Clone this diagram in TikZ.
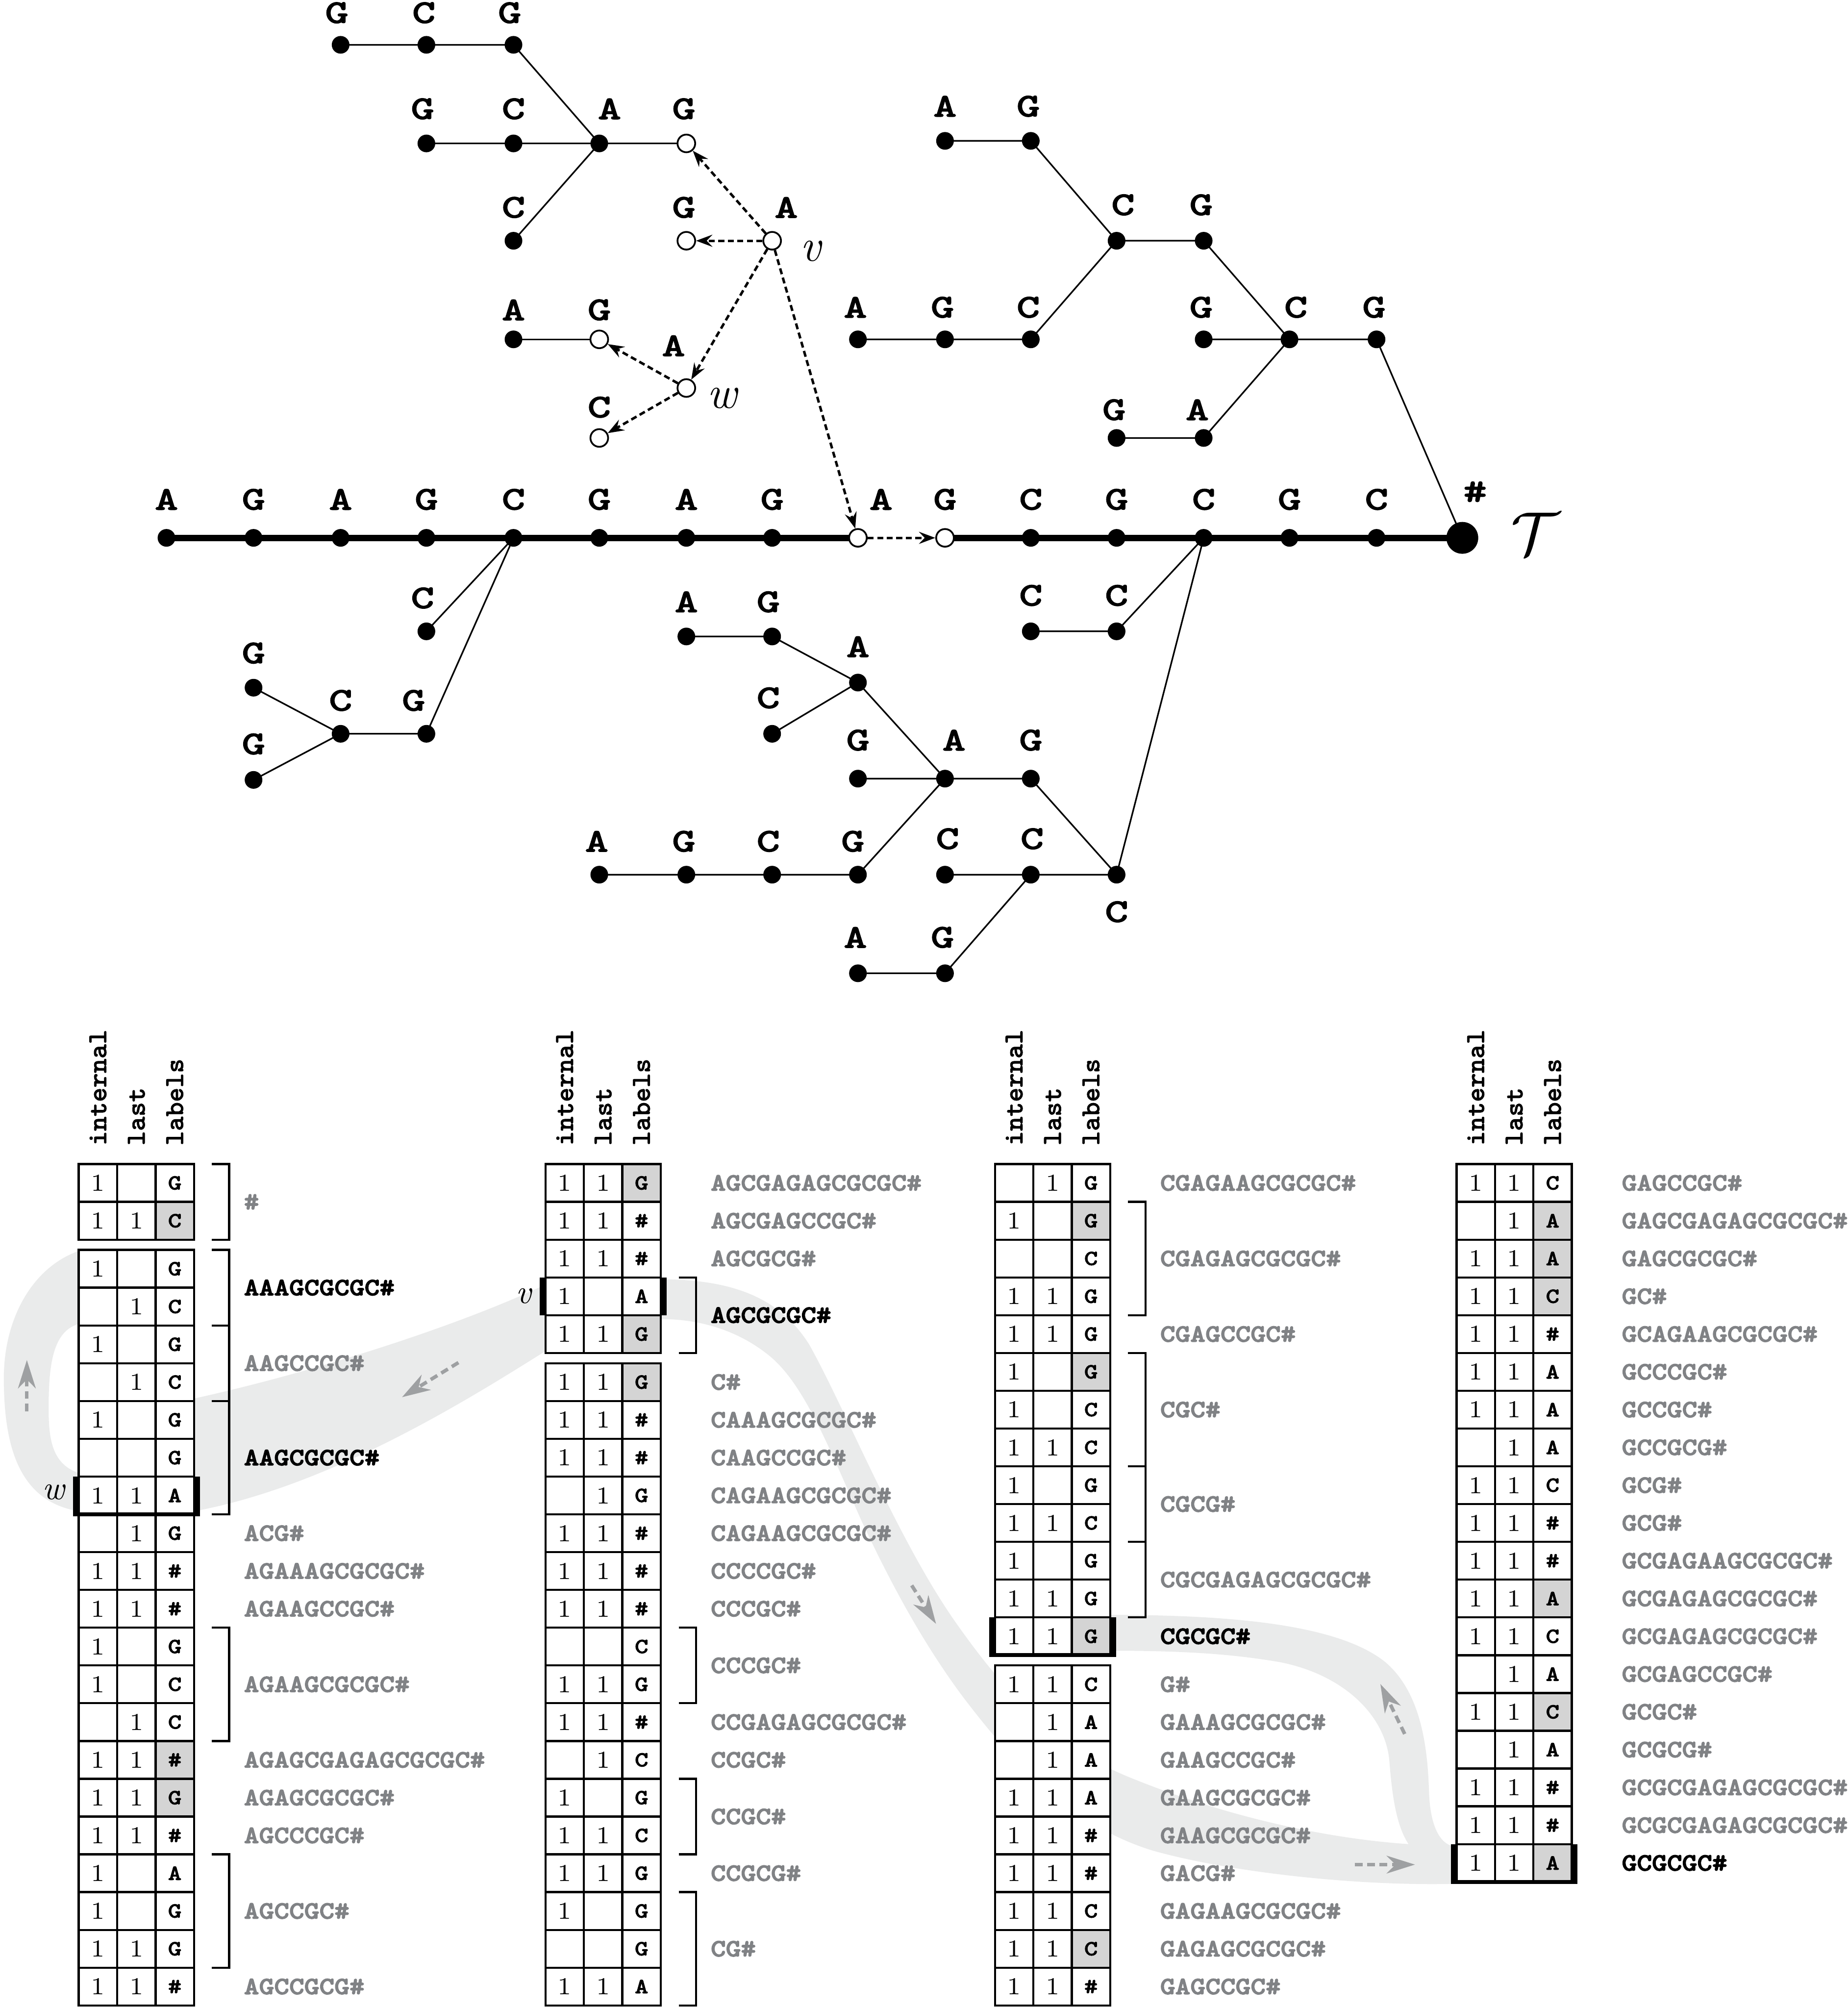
\documentclass[tikz,border=0pt]{standalone}
\usepackage{graphicx}
\usetikzlibrary{arrows.meta}
\pgfdeclarelayer{background}
\pgfsetlayers{background,main}
\definecolor{txtgray}{RGB}{128,130,133}
\definecolor{cellgray}{RGB}{212,212,212}
\definecolor{bandgray}{RGB}{234,235,235}
\definecolor{arrgray}{RGB}{158,160,162}
\font\fTree="[lmmonolt10-bold.otf]:embolden=1.8;extend=1.35" at 9.4pt
\font\fStr="[lmmonolt10-bold.otf]:embolden=3;extend=1.16" at 7pt
\font\fCell="[lmmonolt10-bold.otf]:embolden=2;extend=1.2" at 6.1pt
\font\fHdr="[lmmonolt10-bold.otf]:embolden=1.2" at 7.8pt
\newcommand\tnode[7]{\node[#4] (#1) at (#2,#3) {}; \node[tlab] (#1L) at (#6,#7) {#5};}
\newcommand\drawtab[4]{%
  \foreach \vi/\vl/\vc/\vg [count=\rw] in {#4}{%
    \pgfmathsetmacro\yt{909+(\rw-1)*29.5+8*(\rw>#3)}%
    \pgfmathsetmacro\ym{\yt+14.75}%
    \fill[white] (#2,\yt) rectangle ++(90,29.5);
    \ifnum\vg=1 \fill[cellgray] (#2+60,\yt) rectangle ++(30,29.5);\fi
    \draw[gridl] (#2,\yt) rectangle ++(90,29.5) (#2+30,\yt) -- ++(0,29.5) (#2+60,\yt) -- ++(0,29.5);
    \ifnum\vi=1 \node[digit] (#1i\rw) at (#2+15,\ym) {1};\fi
    \ifnum\vl=1 \node[digit] (#1l\rw) at (#2+45,\ym) {1};\fi
    \node[cellch] (#1c\rw) at (#2+75,\ym) {\vc};
  }%
  \node[hdr] (#1h1) at (#2+15,895) {internal};
  \node[hdr] (#1h2) at (#2+45,895) {last};
  \node[hdr] (#1h3) at (#2+75,895) {labels};
}
\newcommand\drawlabs[4]{%
  \foreach \ra/\rb/\rt/\rk [count=\rw] in {#4}{%
    \pgfmathsetmacro\ya{909+(\ra-1)*29.5+8*(\ra>#3)}%
    \pgfmathsetmacro\yb{909+\rb*29.5+8*(\rb>#3)}%
    \pgfmathsetmacro\ym{(\ya+\yb)/2}%
    \ifnum\ra<\rb \draw[brk] (#2+104,\ya) -| (#2+117.5,\yb) -- (#2+104,\yb);\fi
    \node[str,text=\rk] (#1s\rw) at (#2+128.5,\ym) {\rt};
  }}
\begin{document}
\begin{tikzpicture}[x=0.3623pt,y=-0.3623pt,
 dotn/.style={circle,fill=black,inner sep=0pt,minimum size=5pt},
 openn/.style={circle,draw=black,line width=0.5pt,fill=white,inner sep=0pt,minimum size=5pt},
 rootn/.style={circle,fill=black,inner sep=0pt,minimum size=9pt},
 tlab/.style={inner sep=0pt,font=\fTree},
 tedge/.style={line width=0.45pt},
 pedge/.style={line width=1.8pt},
 darr/.style={line width=0.7pt,dash pattern=on 1.7pt off 1pt,-{Stealth[length=4.6pt,width=3.4pt,inset=1.6pt]}},
 gridl/.style={line width=0.6pt},
 brk/.style={line width=0.6pt},
 digit/.style={inner sep=0pt,font=\fontsize{6.9}{7}\selectfont},
 cellch/.style={inner sep=0pt,font=\fCell},
 hdr/.style={rotate=90,anchor=west,inner sep=0pt,font=\fHdr},
 str/.style={anchor=west,inner sep=0pt,font=\fStr},
 ital/.style={inner sep=0pt,font=\itshape\fontsize{13}{13}\selectfont},
 itals/.style={inner sep=0pt,font=\itshape\fontsize{9.5}{10}\selectfont},
 band/.style={fill=bandgray},
 barr/.style={draw=arrgray,line width=1pt,dash pattern=on 2.2pt off 1.3pt,-{Stealth[length=8pt,width=5pt,inset=2.5pt]}},
]
\useasboundingbox (0,0) rectangle (1443,1568);

% ---------- tree nodes ----------
\tnode{m1}{130}{420}{dotn}{A}{130}{390}
\tnode{m2}{198}{420}{dotn}{G}{198}{390}
\tnode{m3}{266}{420}{dotn}{A}{266}{390}
\tnode{m4}{333}{420}{dotn}{G}{333}{390}
\tnode{m5}{401}{420}{dotn}{C}{401}{390}
\tnode{m6}{468}{420}{dotn}{G}{468}{390}
\tnode{m7}{536}{420}{dotn}{A}{536}{390}
\tnode{m8}{603}{420}{dotn}{G}{603}{390}
\tnode{m9}{670}{420}{openn}{A}{688}{390}
\tnode{m10}{738}{420}{openn}{G}{738}{390}
\tnode{m11}{805}{420}{dotn}{C}{805}{390}
\tnode{m12}{872}{420}{dotn}{G}{872}{390}
\tnode{m13}{940}{420}{dotn}{C}{940}{390}
\tnode{m14}{1007}{420}{dotn}{G}{1007}{390}
\tnode{m15}{1075}{420}{dotn}{C}{1075}{390}
\node[rootn] (root) at (1142,420) {};
\node[tlab] (rootL) at (1152,384) {\#};
\node[inner sep=0pt] (Tcal) at (1199,417) {\fontsize{19}{19}\selectfont$\mathcal{T}$};

\tnode{a1}{333}{493}{dotn}{C}{330}{467}
\tnode{a2}{333}{573}{dotn}{G}{323}{547}
\tnode{a3}{266}{573}{dotn}{C}{266}{547}
\tnode{a4}{198}{537}{dotn}{G}{198}{510}
\tnode{a5}{198}{609}{dotn}{G}{198}{581}

\tnode{b1}{872}{493}{dotn}{C}{872}{465}
\tnode{b2}{805}{493}{dotn}{C}{805}{465}
\tnode{b3}{872}{683}{dotn}{C}{872}{712}
\tnode{b4}{805}{608}{dotn}{G}{805}{578}
\tnode{b5}{738}{608}{dotn}{A}{745}{578}
\tnode{b6}{670}{608}{dotn}{G}{670}{578}
\tnode{b7}{670}{533}{dotn}{A}{670}{505}
\tnode{b8}{603}{497}{dotn}{G}{600}{470}
\tnode{b9}{536}{497}{dotn}{A}{536}{470}
\tnode{b10}{603}{573}{dotn}{C}{600}{545}
\tnode{b11}{670}{683}{dotn}{G}{666}{657}
\tnode{b12}{603}{683}{dotn}{C}{600}{657}
\tnode{b13}{536}{683}{dotn}{G}{534}{657}
\tnode{b14}{468}{683}{dotn}{A}{466}{657}
\tnode{b15}{805}{683}{dotn}{C}{806}{655}
\tnode{b16}{738}{683}{dotn}{C}{740}{655}
\tnode{b17}{738}{760}{dotn}{G}{736}{732}
\tnode{b18}{670}{760}{dotn}{A}{668}{732}

\tnode{c1}{1075}{265}{dotn}{G}{1073}{240}
\tnode{c2}{1007}{265}{dotn}{C}{1012}{240}
\tnode{c3}{940}{265}{dotn}{G}{938}{240}
\tnode{c4}{940}{188}{dotn}{G}{938}{160}
\tnode{c5}{940}{342}{dotn}{A}{935}{320}
\tnode{c6}{872}{342}{dotn}{G}{870}{320}
\tnode{c7}{872}{188}{dotn}{C}{877}{160}
\tnode{c8}{805}{110}{dotn}{G}{803}{83}
\tnode{c9}{738}{110}{dotn}{A}{738}{83}
\tnode{c10}{805}{265}{dotn}{C}{803}{240}
\tnode{c11}{738}{265}{dotn}{G}{736}{240}
\tnode{c12}{670}{265}{dotn}{A}{668}{240}

\tnode{d1}{266}{35}{dotn}{G}{263}{10}
\tnode{d2}{333}{35}{dotn}{C}{331}{10}
\tnode{d3}{401}{35}{dotn}{G}{398}{10}
\tnode{d4}{333}{112}{dotn}{G}{330}{85}
\tnode{d5}{401}{112}{dotn}{C}{401}{85}
\tnode{d6}{468}{112}{dotn}{A}{476}{85}
\tnode{d7}{536}{112}{openn}{G}{534}{85}
\tnode{d8}{401}{188}{dotn}{C}{401}{162}

\tnode{v}{603}{188}{openn}{A}{614}{162}
\tnode{e1}{536}{188}{openn}{G}{534}{162}
\tnode{w}{536}{303}{openn}{A}{526}{270}
\tnode{e2}{468}{265}{openn}{G}{468}{242}
\tnode{e3}{401}{265}{dotn}{A}{401}{242}
\tnode{e4}{468}{342}{openn}{C}{468}{318}
\node[ital] (vname) at (633,196) {v};
\node[ital] (wname) at (564,311) {w};

% dotted arrows
\draw[darr] (v) -- (d7);
\draw[darr] (v) -- (e1);
\draw[darr] (v) -- (w);
\draw[darr] (v) -- (m9);
\draw[darr] (w) -- (e2);
\draw[darr] (w) -- (e4);
\draw[darr] (m9) -- (m10);

\begin{pgfonlayer}{background}
\draw[pedge] (m1.center) -- (m2.center) -- (m3.center) -- (m4.center) -- (m5.center) -- (m6.center) -- (m7.center) -- (m8.center) -- (m9.center);
\draw[pedge] (m10.center) -- (m11.center) -- (m12.center) -- (m13.center) -- (m14.center) -- (m15.center) -- (root.center);
\draw[tedge] (m5.center) -- (a1.center) (m5.center) -- (a2.center) -- (a3.center) -- (a4.center) (a3.center) -- (a5.center);
\draw[tedge] (m13.center) -- (b1.center) -- (b2.center) (m13.center) -- (b3.center) -- (b4.center) -- (b5.center) -- (b6.center)
  (b5.center) -- (b7.center) -- (b8.center) -- (b9.center) (b7.center) -- (b10.center)
  (b5.center) -- (b11.center) -- (b12.center) -- (b13.center) -- (b14.center)
  (b3.center) -- (b15.center) -- (b16.center) (b15.center) -- (b17.center) -- (b18.center);
\draw[tedge] (root.center) -- (c1.center) -- (c2.center) -- (c3.center) (c2.center) -- (c4.center) -- (c7.center) -- (c8.center) -- (c9.center)
  (c7.center) -- (c10.center) -- (c11.center) -- (c12.center) (c2.center) -- (c5.center) -- (c6.center);
\draw[tedge] (d1.center) -- (d2.center) -- (d3.center) -- (d6.center) (d4.center) -- (d5.center) -- (d6.center) -- (d7.center) (d6.center) -- (d8.center);
\draw[tedge] (e3.center) -- (e2.center);

% ---------- grey bands ----------
\fill[band] (426,1003) .. controls (370,1030) and (260,1068) .. (152,1092) -- (61,1150)
  .. controls (40,1143) and (38,1122) .. (38,1100) .. controls (38,1070) and (40,1040) .. (61,1034)
  -- (61,977) .. controls (25,990) and (3,1030) .. (3,1076) .. controls (3,1130) and (15,1172) .. (61,1180)
  -- (152,1180) .. controls (260,1160) and (370,1090) .. (426,1055) -- cycle;
\fill[band] (516,999) .. controls (575,999) and (610,1015) .. (632,1050)
  .. controls (660,1100) and (700,1200) .. (745,1265)
  .. controls (780,1315) and (820,1362) .. (880,1387)
  .. controls (960,1420) and (1040,1436) .. (1100,1440)
  .. controls (1090,1425) and (1087,1400) .. (1085,1375)
  .. controls (1082,1340) and (1050,1308) .. (1000,1298)
  .. controls (960,1291) and (920,1289) .. (866,1289) -- (866,1261)
  .. controls (960,1261) and (1045,1268) .. (1082,1298)
  .. controls (1110,1322) and (1115,1365) .. (1116,1400)
  .. controls (1117,1425) and (1124,1441) .. (1137,1442) -- (1137,1471)
  .. controls (1060,1473) and (960,1462) .. (900,1445)
  .. controls (835,1425) and (790,1375) .. (752,1325)
  .. controls (720,1282) and (695,1235) .. (673,1188)
  .. controls (648,1132) and (628,1080) .. (600,1058)
  .. controls (575,1038) and (545,1030) .. (516,1030) -- cycle;
\coordinate (ba1) at (358,1064); \coordinate (ba2) at (314,1091);
\coordinate (bl1) at (21,1102); \coordinate (bl2) at (21,1062);
\coordinate (bb1) at (712,1238); \coordinate (bb2) at (731,1268);
\coordinate (bc1) at (1058,1456); \coordinate (bc2) at (1105,1456);
\coordinate (bd1) at (1097,1354); \coordinate (bd2) at (1078,1315);
\draw[barr] (ba1) -- (ba2);
\draw[barr] (bl1) -- (bl2);
\draw[barr] (bb1) -- (bb2);
\draw[barr] (bc1) -- (bc2);
\draw[barr] (bd1) -- (bd2);
\end{pgfonlayer}

% ---------- tables ----------
\drawtab{A}{61.5}{2}{1/0/G/0,1/1/C/1,1/0/G/0,0/1/C/0,1/0/G/0,0/1/C/0,1/0/G/0,0/0/G/0,1/1/A/0,0/1/G/0,1/1/\#/0,1/1/\#/0,1/0/G/0,1/0/C/0,0/1/C/0,1/1/\#/1,1/1/G/1,1/1/\#/0,1/0/A/0,1/0/G/0,1/1/G/0,1/1/\#/0}
\drawtab{B}{426}{5}{1/1/G/1,1/1/\#/0,1/1/\#/0,1/0/A/0,1/1/G/1,1/1/G/1,1/1/\#/0,1/1/\#/0,0/1/G/0,1/1/\#/0,1/1/\#/0,1/1/\#/0,0/0/C/0,1/1/G/0,1/1/\#/0,0/1/C/0,1/0/G/0,1/1/C/0,1/1/G/0,1/0/G/0,0/0/G/0,1/1/A/0}
\drawtab{C}{777}{13}{0/1/G/0,1/0/G/1,0/0/C/0,1/1/G/0,1/1/G/0,1/0/G/1,1/0/C/0,1/1/C/0,1/0/G/0,1/1/C/0,1/0/G/0,1/1/G/0,1/1/G/1,1/1/C/0,0/1/A/0,0/1/A/0,1/1/A/0,1/1/\#/0,1/1/\#/0,1/1/C/0,1/1/C/1,1/1/\#/0}
\drawtab{D}{1137.5}{99}{1/1/C/0,0/1/A/1,1/1/A/1,1/1/C/1,1/1/\#/0,1/1/A/0,1/1/A/0,0/1/A/0,1/1/C/0,1/1/\#/0,1/1/\#/0,1/1/A/1,1/1/C/0,0/1/A/0,1/1/C/1,0/1/A/0,1/1/\#/0,1/1/\#/0,1/1/A/1}

% highlighted rows
\fill (57,1153) rectangle (61.5,1182.5); \fill (151.5,1153) rectangle (156,1182.5);
\draw[line width=1.1pt] (57,1182.5) -- (156,1182.5);
\fill (421.5,997.5) rectangle (426,1027); \fill (516,997.5) rectangle (520.5,1027);
\fill (772.5,1263) rectangle (777,1292.5); \fill (867,1263) rectangle (871.5,1292.5);
\draw[line width=1.1pt] (772.5,1292.5) -- (871.5,1292.5);
\fill (1133,1440) rectangle (1137.5,1469.5); \fill (1227.5,1440) rectangle (1232,1469.5);
\draw[line width=1.1pt] (1133,1469.5) -- (1232,1469.5);
\node[itals] (wrow) at (42,1165) {w};
\node[itals] (vrow) at (409,1012) {v};

% ---------- string labels ----------
\drawlabs{A}{61.5}{2}{1/2/\#/txtgray,3/4/AAAGCGCGC\#/black,5/6/AAGCCGC\#/txtgray,7/9/AAGCGCGC\#/black,10/10/ACG\#/txtgray,11/11/AGAAAGCGCGC\#/txtgray,12/12/AGAAGCCGC\#/txtgray,13/15/AGAAGCGCGC\#/txtgray,16/16/AGAGCGAGAGCGCGC\#/txtgray,17/17/AGAGCGCGC\#/txtgray,18/18/AGCCCGC\#/txtgray,19/21/AGCCGC\#/txtgray,22/22/AGCCGCG\#/txtgray}
\drawlabs{B}{426}{5}{1/1/AGCGAGAGCGCGC\#/txtgray,2/2/AGCGAGCCGC\#/txtgray,3/3/AGCGCG\#/txtgray,4/5/AGCGCGC\#/black,6/6/C\#/txtgray,7/7/CAAAGCGCGC\#/txtgray,8/8/CAAGCCGC\#/txtgray,9/9/CAGAAGCGCGC\#/txtgray,10/10/CAGAAGCGCGC\#/txtgray,11/11/CCCCGC\#/txtgray,12/12/CCCGC\#/txtgray,13/14/CCCGC\#/txtgray,15/15/CCGAGAGCGCGC\#/txtgray,16/16/CCGC\#/txtgray,17/18/CCGC\#/txtgray,19/19/CCGCG\#/txtgray,20/22/CG\#/txtgray}
\drawlabs{C}{777}{13}{1/1/CGAGAAGCGCGC\#/txtgray,2/4/CGAGAGCGCGC\#/txtgray,5/5/CGAGCCGC\#/txtgray,6/8/CGC\#/txtgray,9/10/CGCG\#/txtgray,11/12/CGCGAGAGCGCGC\#/txtgray,13/13/CGCGC\#/black,14/14/G\#/txtgray,15/15/GAAAGCGCGC\#/txtgray,16/16/GAAGCCGC\#/txtgray,17/17/GAAGCGCGC\#/txtgray,18/18/GAAGCGCGC\#/txtgray,19/19/GACG\#/txtgray,20/20/GAGAAGCGCGC\#/txtgray,21/21/GAGAGCGCGC\#/txtgray,22/22/GAGCCGC\#/txtgray}
\drawlabs{D}{1137.5}{99}{1/1/GAGCCGC\#/txtgray,2/2/GAGCGAGAGCGCGC\#/txtgray,3/3/GAGCGCGC\#/txtgray,4/4/GC\#/txtgray,5/5/GCAGAAGCGCGC\#/txtgray,6/6/GCCCGC\#/txtgray,7/7/GCCGC\#/txtgray,8/8/GCCGCG\#/txtgray,9/9/GCG\#/txtgray,10/10/GCG\#/txtgray,11/11/GCGAGAAGCGCGC\#/txtgray,12/12/GCGAGAGCGCGC\#/txtgray,13/13/GCGAGAGCGCGC\#/txtgray,14/14/GCGAGCCGC\#/txtgray,15/15/GCGC\#/txtgray,16/16/GCGCG\#/txtgray,17/17/GCGCGAGAGCGCGC\#/txtgray,18/18/GCGCGAGAGCGCGC\#/txtgray,19/19/GCGCGC\#/black}
\end{tikzpicture}
\end{document}
